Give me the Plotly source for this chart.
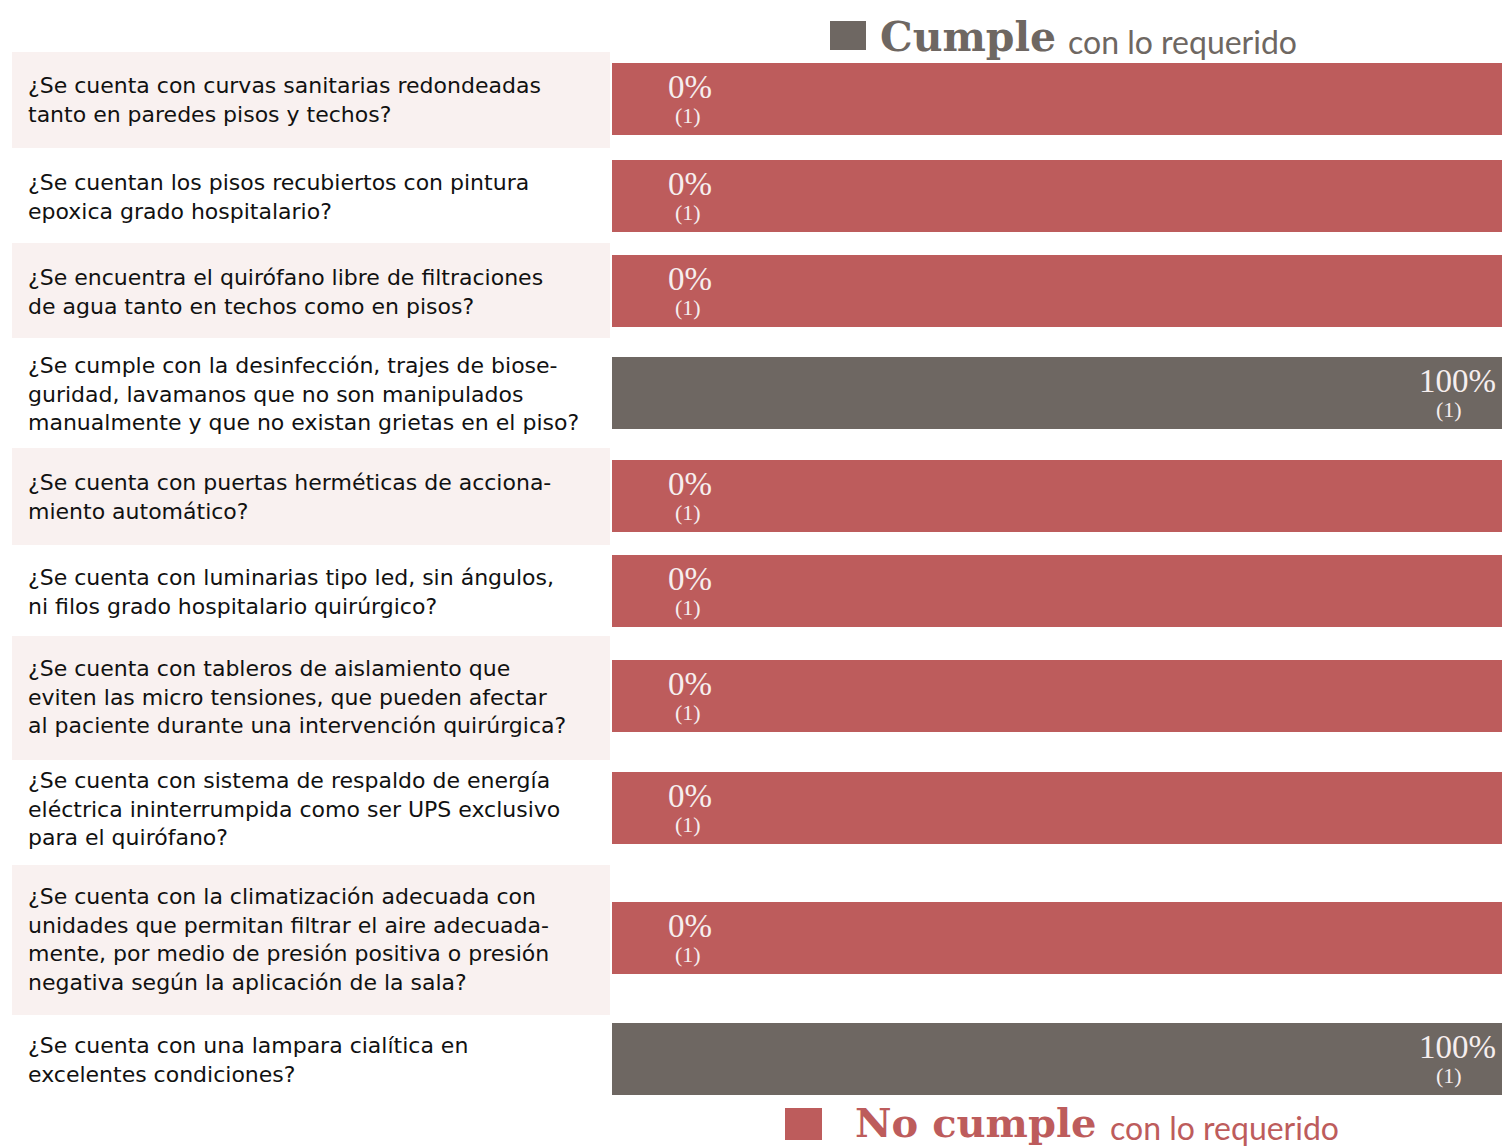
import plotly.graph_objects as go

# Survey items (operating room infrastructure checklist)
questions = [
    "¿Se cuenta con curvas sanitarias redondeadas<br>tanto en paredes pisos y techos?",
    "¿Se cuentan los pisos recubiertos con pintura<br>epoxica grado hospitalario?",
    "¿Se encuentra el quirófano libre de filtraciones<br>de agua tanto en techos como en pisos?",
    "¿Se cumple con la desinfección, trajes de biose-<br>guridad, lavamanos que no son manipulados<br>manualmente y que no existan grietas en el piso?",
    "¿Se cuenta con puertas herméticas de acciona-<br>miento automático?",
    "¿Se cuenta con luminarias tipo led, sin ángulos,<br>ni filos grado hospitalario quirúrgico?",
    "¿Se cuenta con tableros de aislamiento que<br>eviten las micro tensiones, que pueden afectar<br>al paciente durante una intervención quirúrgica?",
    "¿Se cuenta con sistema de respaldo de energía<br>eléctrica ininterrumpida como ser UPS exclusivo<br>para el quirófano?",
    "¿Se cuenta con la climatización adecuada con<br>unidades que permitan filtrar el aire adecuada-<br>mente, por medio de presión positiva o presión<br>negativa según la aplicación de la sala?",
    "¿Se cuenta con una lampara cialítica en<br>excelentes condiciones?",
]
cumple_pct = [0, 0, 0, 100, 0, 0, 0, 0, 0, 100]
respuestas = [1, 1, 1, 1, 1, 1, 1, 1, 1, 1]
no_cumple_pct = [100 - v for v in cumple_pct]

# Layout: vertical centre of each row (y axis runs in page pixels, top = 0)
W, H = 1502, 1146
ROW_Y = [99, 196, 291, 393, 496, 591, 696, 808, 938, 1059]
ROW_BAND = [(52, 148), None, (243, 338), None, (448, 545), None,
            (636, 760), None, (865, 1015), None]
BAR_W = 72
BAR_X0 = 612

GRAY = "#6e6762"
RED = "#bd5c5c"
BAND = "#f9f1f0"
TEXT_FONT = "DejaVu Sans, sans-serif"
NUM_FONT = "Liberation Serif, serif"
HEAD_FONT = "DejaVu Serif, serif"
SUB_FONT = "Lato, sans-serif"

fig = go.Figure()
fig.add_trace(go.Bar(
    y=ROW_Y, x=cumple_pct, orientation="h", width=BAR_W,
    marker=dict(color=GRAY, line=dict(width=0)), name="Cumple",
    hoverinfo="skip",
))
fig.add_trace(go.Bar(
    y=ROW_Y, x=no_cumple_pct, orientation="h", width=BAR_W,
    marker=dict(color=RED, line=dict(width=0)), name="No cumple",
    hoverinfo="skip",
))

shapes = []
for band in ROW_BAND:
    if band:
        shapes.append(dict(type="rect", xref="paper", yref="y",
                           x0=12 / W, x1=610 / W, y0=band[0], y1=band[1],
                           fillcolor=BAND, line=dict(width=0), layer="below"))

annotations = []
for q, yc in zip(questions, ROW_Y):
    annotations.append(dict(
        xref="paper", yref="y", x=26 / W, y=yc + 1, xanchor="left", yanchor="middle",
        align="left", text=q, showarrow=False,
        font=dict(family=TEXT_FONT, size=22, color="#111111"),
    ))

for v, n, yc in zip(cumple_pct, respuestas, ROW_Y):
    shift = 78 if v == 0 else -45
    annotations.append(dict(
        xref="x", yref="y", x=v, y=yc - 12, xshift=shift, showarrow=False,
        xanchor="center", yanchor="middle", text=f"{v}%",
        font=dict(family=NUM_FONT, size=33, color="#f6eeee"),
    ))
    annotations.append(dict(
        xref="x", yref="y", x=v, y=yc + 16, xshift=shift - 2 if v == 0 else shift - 8,
        showarrow=False, xanchor="center", yanchor="middle", text=f"({n})",
        font=dict(family=NUM_FONT, size=22, color="#f6eeee"),
    ))

# Legend: gray key at the top, red key at the bottom
shapes.append(dict(type="rect", xref="paper", yref="y", x0=830 / W, x1=866 / W,
                   y0=21, y1=50, fillcolor=GRAY, line=dict(width=0)))
annotations.append(dict(
    xref="paper", yref="y", x=878 / W, y=37, xanchor="left", yanchor="middle",
    showarrow=False, text="<b>Cumple</b>",
    font=dict(family=HEAD_FONT, size=41, color=GRAY),
))
annotations.append(dict(
    xref="paper", yref="y", x=1066 / W, y=41, xanchor="left", yanchor="middle",
    showarrow=False, text="con lo requerido",
    font=dict(family=SUB_FONT, size=32, color=GRAY),
))
shapes.append(dict(type="rect", xref="paper", yref="y", x0=785 / W, x1=822 / W,
                   y0=1108, y1=1140, fillcolor=RED, line=dict(width=0)))
annotations.append(dict(
    xref="paper", yref="y", x=853 / W, y=1122, xanchor="left", yanchor="middle",
    showarrow=False, text="<b>No cumple</b>",
    font=dict(family=HEAD_FONT, size=40, color=RED),
))
annotations.append(dict(
    xref="paper", yref="y", x=1108 / W, y=1127, xanchor="left", yanchor="middle",
    showarrow=False, text="con lo requerido",
    font=dict(family=SUB_FONT, size=32, color=RED),
))

fig.update_layout(
    width=W, height=H, barmode="stack", showlegend=False,
    margin=dict(l=0, r=0, t=0, b=0),
    paper_bgcolor="white", plot_bgcolor="rgba(0,0,0,0)",
    xaxis=dict(domain=[BAR_X0 / W, 1], range=[0, 100], visible=False, fixedrange=True),
    yaxis=dict(domain=[0, 1], range=[H, 0], visible=False, fixedrange=True),
    shapes=shapes, annotations=annotations, bargap=0,
)

fig.write_html("out.html", config={"displayModeBar": False})
